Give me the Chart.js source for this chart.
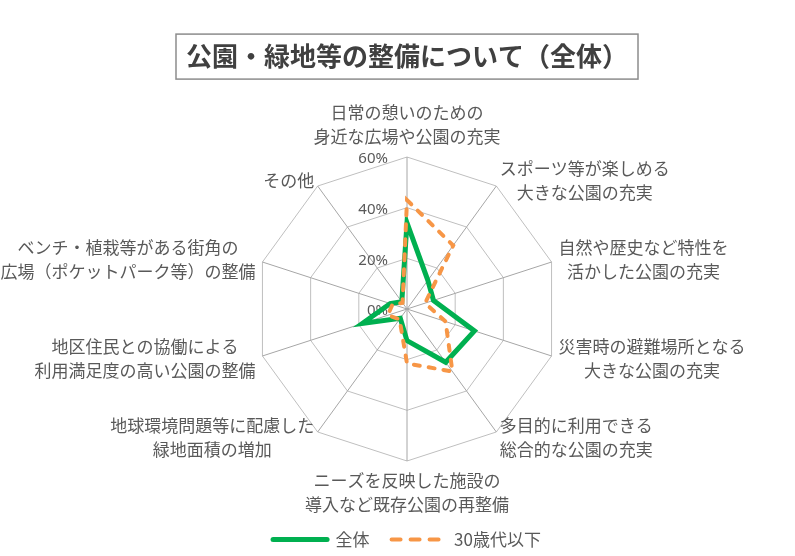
<!DOCTYPE html>
<html lang="ja">
<head>
<meta charset="utf-8">
<script src="https://cdn.jsdelivr.net/npm/chart.js@4.4.1/dist/chart.umd.min.js"></script>
<style>
  html, body { margin: 0; padding: 0; background: #fff; }
  #wrap { width: 795px; height: 556px; }
</style>
</head>
<body>
<div id="wrap"><canvas id="radar"></canvas></div>
<script>
// 項目（上から時計回り）
const categories = [
  ['日常の憩いのための', '身近な広場や公園の充実'],
  ['スポーツ等が楽しめる', '大きな公園の充実'],
  ['自然や歴史など特性を', '活かした公園の充実'],
  ['災害時の避難場所となる', '大きな公園の充実'],
  ['多目的に利用できる', '総合的な公園の充実'],
  ['ニーズを反映した施設の', '導入など既存公園の再整備'],
  ['地球環境問題等に配慮した', '緑地面積の増加'],
  ['地区住民との協働による', '利用満足度の高い公園の整備'],
  ['ベンチ・植栽等がある街角の', '広場（ポケットパーク等）の整備'],
  ['その他']
];

// 回答割合 (%)
const zentai = [34, 14, 11, 28, 26, 12.5, 4.5, 18.5, 7, 3.5];
const under30s = [43, 31, 7.5, 16, 30.5, 21.5, 5, 8, 6, 3];

const tickMax = 60;
const tickStep = 20;
const tickFormat = v => v + '%';

// レーダーの半径(px)
const radarRadius = 152;

Chart.defaults.font.family = '"Noto Sans CJK JP", "Noto Sans", sans-serif';
Chart.defaults.color = '#595959';

// 目盛りと項目名（Excel風に中央揃え・縦中央）
const radarText = {
  id: 'radarText',
  beforeDatasetsDraw(chart) {
    const r = chart.scales.r;
    const ctx = chart.ctx;
    ctx.save();
    ctx.fillStyle = '#595959';
    ctx.textBaseline = 'middle';

    ctx.font = '15px "Noto Sans", sans-serif';
    ctx.textAlign = 'right';
    r.ticks.forEach(t => {
      const d = r.getDistanceFromCenterForValue(t.value);
      ctx.fillText(tickFormat(t.value), r.xCenter - 19, r.yCenter - d + 2);
    });

    ctx.font = '17px "Noto Sans CJK JP"';
    ctx.textAlign = 'center';
    const lineH = 24;
    categories.forEach((lines, i) => {
      const p = r.getPointPosition(i, r.drawingArea);
      const w = Math.max(...lines.map(s => ctx.measureText(s).width));
      const h = lines.length * lineH;
      const dx = p.x - r.xCenter;
      let cx, top;
      if (Math.abs(dx) < 1) {
        cx = p.x;
        top = p.y < r.yCenter ? p.y - 8 - h : p.y + 8;
      } else {
        const gap = Math.abs(dx) / r.drawingArea > 0.9 ? 7 : 3.5;
        cx = dx > 0 ? p.x + gap + w / 2 : p.x - gap - w / 2;
        top = p.y + 7 * (p.y - r.yCenter) / r.drawingArea - h / 2;
      }
      lines.forEach((s, k) => ctx.fillText(s, cx, top + lineH * (k + 0.5)));
    });
    ctx.restore();
  }
};

// タイトルの枠
const titleBox = {
  id: 'titleBox',
  afterDraw(chart) {
    const opts = chart.options.plugins.title;
    const tb = chart.titleBlock;
    const ctx = chart.ctx;
    ctx.save();
    ctx.font = 'bold 26px "Noto Sans CJK JP"';
    const w = ctx.measureText(opts.text).width;
    const cx = (tb.left + tb.right) / 2;
    const cy = tb.top + opts.padding.top + 26 * 1.2 / 2;
    ctx.strokeStyle = '#8c8c8c';
    ctx.lineWidth = 1.5;
    ctx.strokeRect(cx - w / 2 - 10, cy - 22.5, w + 20, 45);
    ctx.restore();
  }
};

new Chart(document.getElementById('radar'), {
  type: 'radar',
  data: {
    labels: categories,
    datasets: [
      {
        label: '全体',
        data: zentai,
        borderColor: '#00b050',
        backgroundColor: '#00b050',
        borderWidth: 5,
        borderJoinStyle: 'miter',
        borderCapStyle: 'round',
        fill: false,
        pointRadius: 0,
        order: 2
      },
      {
        label: '30歳代以下',
        data: under30s,
        borderColor: '#f79646',
        backgroundColor: '#f79646',
        borderWidth: 4,
        borderDash: [6, 9],
        borderCapStyle: 'round',
        fill: false,
        pointRadius: 0,
        order: 1
      }
    ]
  },
  options: {
    responsive: true,
    maintainAspectRatio: false,
    animation: false,
    layout: { padding: { left: 19, right: 0, top: 0, bottom: -2 } },
    scales: {
      r: {
        min: 0,
        max: tickMax,
        ticks: { stepSize: tickStep, display: false, callback: tickFormat },
        grid: { color: '#bfbfbf', lineWidth: 1 },
        angleLines: { color: '#a6a6a6', lineWidth: 1 },
        pointLabels: { display: false },
        afterFit(scale) { scale.drawingArea = radarRadius; }
      }
    },
    plugins: {
      title: {
        display: true,
        text: '公園・緑地等の整備について（全体）',
        color: '#404040',
        font: { size: 26, weight: 'bold', lineHeight: 1.2 },
        padding: { top: 41, bottom: 38 }
      },
      legend: {
        position: 'bottom',
        labels: {
          usePointStyle: true,
          pointStyle: 'line',
          pointStyleWidth: 54,
          color: '#595959',
          font: { size: 17 },
          padding: 22,
          sort: (a, b) => a.datasetIndex - b.datasetIndex,
          generateLabels(chart) {
            const items = Chart.defaults.plugins.legend.labels.generateLabels(chart);
            items.forEach(it => {
              const ds = chart.data.datasets[it.datasetIndex];
              it.strokeStyle = ds.borderColor;
              it.lineWidth = ds.borderWidth;
              it.lineDash = ds.borderDash ? [9, 10] : [];
              it.lineCap = 'round';
            });
            return items;
          }
        }
      },
      tooltip: { enabled: false }
    }
  },
  plugins: [radarText, titleBox]
});
</script>
</body>
</html>
